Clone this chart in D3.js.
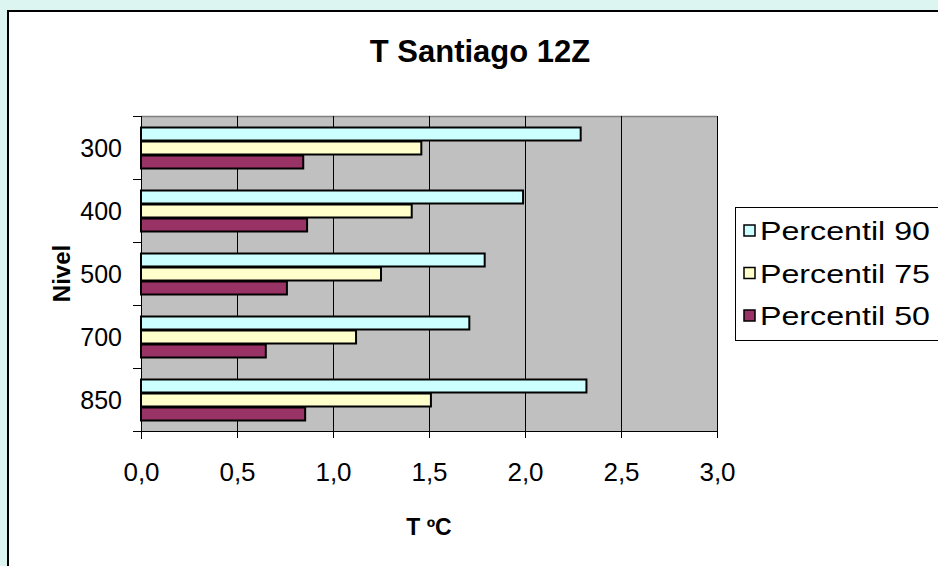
<!DOCTYPE html>
<html><head><meta charset="utf-8">
<script src="https://cdn.jsdelivr.net/npm/d3@7"></script>
<style>html,body{margin:0;padding:0;background:#ddf5f0;}svg{display:block;}</style>
</head><body>
<script>
const categories = ["300","400","500","700","850"];
const seriesNames = ["Percentil 90","Percentil 75","Percentil 50"];
const p90 = [2.29,1.99,1.79,1.71,2.32];
const p75 = [1.46,1.41,1.25,1.12,1.51];
const p50 = [0.845,0.865,0.76,0.65,0.855];
const xTicks = [0,0.5,1,1.5,2,2.5,3];
const colors = ["#ccffff","#ffffcc","#993366"];
const seriesValues = [p90,p75,p50];

const W=938,H=566;
const svg=d3.select("body").append("svg").attr("width",W).attr("height",H);
svg.append("rect").attr("x",0).attr("y",0).attr("width",W).attr("height",H).attr("fill","#ddf5f0");
svg.append("rect").attr("x",8).attr("y",11).attr("width",W+20).attr("height",H+20)
  .attr("fill","#fff").attr("stroke","#000").attr("stroke-width",2);

const L=141,R=717,T=116,B=431;
const x=d3.scaleLinear().domain([0,3]).range([L,R]);
const y=d3.scaleBand().domain(categories).range([T,B]);
const inner=d3.scaleBand().domain(seriesNames).range([0,y.bandwidth()]).paddingOuter(0.75).paddingInner(0);

const font="Liberation Sans, Arial, sans-serif";
svg.append("rect").attr("x",L).attr("y",T).attr("width",R-L).attr("height",B-T).attr("fill","#c0c0c0");
svg.append("line").attr("x1",L).attr("x2",R).attr("y1",T+0.5).attr("y2",T+0.5).attr("stroke","#808080").attr("stroke-width",1.5);

// gridlines
svg.append("g").selectAll("line").data(xTicks.slice(1)).join("line")
  .attr("x1",d=>Math.round(x(d))+0.5).attr("x2",d=>Math.round(x(d))+0.5)
  .attr("y1",T).attr("y2",B).attr("stroke","#000").attr("stroke-width",1);

// bars
seriesNames.forEach((s,i)=>{
  svg.append("g").selectAll("rect").data(categories).join("rect")
    .attr("x",x(0)).attr("y",c=>y(c)+inner(s)+1)
    .attr("width",(c,j)=>x(seriesValues[i][j])-x(0)).attr("height",inner.bandwidth()-1)
    .attr("fill",colors[i]).attr("stroke","#000").attr("stroke-width",2);
});

// x axis
const xa=svg.append("g").attr("transform",`translate(0,${B})`)
  .call(d3.axisBottom(x).tickValues(xTicks).tickSize(7).tickSizeOuter(0).tickFormat(d=>d3.format(".1f")(d).replace(".",",")));
xa.select(".domain").attr("stroke","#000").attr("d",`M${L-8},0.5H${R}`);
xa.selectAll("text").attr("font-family",font).attr("font-size",26).attr("fill","#000").attr("y",50).attr("dy",0);

// y axis
const ya=svg.append("g").attr("transform",`translate(${L},0)`);
ya.append("line").attr("x1",0.5).attr("x2",0.5).attr("y1",T).attr("y2",B+8).attr("stroke","#000");
const yEdges=categories.map(c=>y(c)).concat([B]);
ya.selectAll("line.t").data(yEdges).join("line").attr("class","t")
  .attr("x1",-8).attr("x2",0).attr("y1",d=>Math.round(d)+0.5).attr("y2",d=>Math.round(d)+0.5).attr("stroke","#000");
ya.selectAll("text").data(categories).join("text")
  .attr("x",-19).attr("y",c=>y(c)+y.bandwidth()/2).attr("dy","0.36em")
  .attr("text-anchor","end").attr("font-family",font).attr("font-size",25).text(c=>c);

// titles
svg.append("text").attr("x",480).attr("y",62).attr("text-anchor","middle")
  .attr("font-family",font).attr("font-weight","bold").attr("font-size",31).text("T Santiago 12Z");
svg.append("text").attr("x",(L+R)/2).attr("y",535).attr("text-anchor","middle")
  .attr("font-family",font).attr("font-weight","bold").attr("font-size",23).text("T ºC");
svg.append("text").attr("transform",`translate(70,${(T+B)/2}) rotate(-90)`).attr("text-anchor","middle")
  .attr("font-family",font).attr("font-weight","bold").attr("font-size",24).text("Nivel");

// legend
const lg=svg.append("g");
lg.append("rect").attr("x",735.5).attr("y",207.5).attr("width",210).attr("height",133).attr("fill","#fff").attr("stroke","#000");
seriesNames.forEach((s,i)=>{
  const cy=231+i*42.5;
  lg.append("rect").attr("x",744).attr("y",cy-6).attr("width",11).attr("height",11)
    .attr("fill",colors[i]).attr("stroke","#000").attr("stroke-width",1.5);
  lg.append("text").attr("x",760).attr("y",cy).attr("dy","0.36em").attr("font-family",font).attr("font-size",25)
    .attr("textLength",170).attr("lengthAdjust","spacingAndGlyphs").text(s);
});
</script>
</body></html>
